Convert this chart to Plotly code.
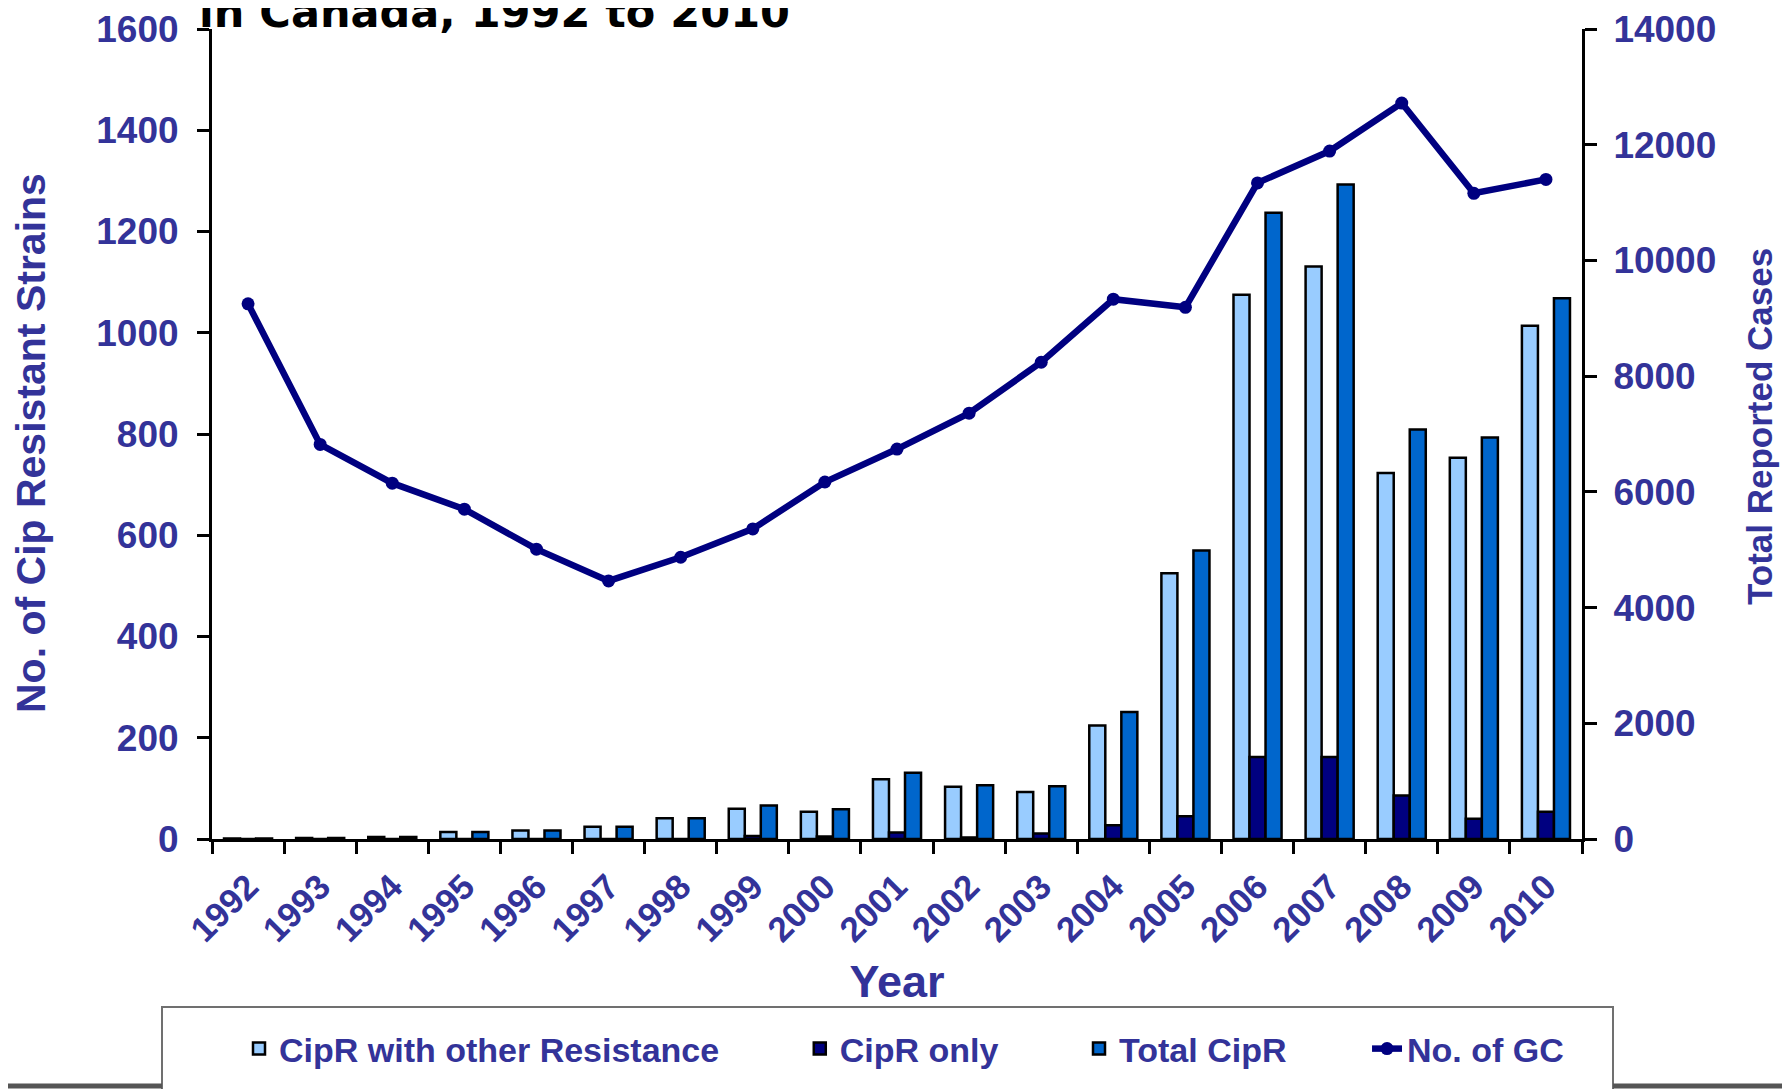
import plotly.graph_objects as go

years = [str(y) for y in range(1992, 2011)]
cipr_other = [1, 2, 4, 14, 17, 24, 41, 60, 54, 118, 103, 93, 224, 525, 1075, 1131, 723, 753, 1014]
cipr_only = [0, 0, 0, 0, 0, 0, 0, 6, 5, 13, 3, 11, 27, 45, 162, 162, 86, 40, 54]
total_cipr = [1, 2, 4, 14, 17, 24, 41, 66, 59, 131, 106, 104, 251, 570, 1237, 1293, 809, 793, 1068]
no_gc = [9250, 6820, 6150, 5700, 5010, 4460, 4870, 5360, 6170, 6740, 7360, 8240, 9330, 9190,
         11340, 11890, 12720, 11160, 11400]

left_ticks = [0, 200, 400, 600, 800, 1000, 1200, 1400, 1600]
right_ticks = [0, 2000, 4000, 6000, 8000, 10000, 12000, 14000]

FONT = "Liberation Sans, Arial, sans-serif"
TXT = "#333399"
PAD = "\u00a0" * 8  # spacing between legend entries

def bfont(size, color=TXT, family=FONT):
    return dict(family=family, size=size, color=color, weight="bold")

fig = go.Figure()
fig.add_trace(go.Bar(x=years, y=cipr_other, name="CipR with other Resistance" + PAD,
                     marker=dict(color="#99CCFF", line=dict(color="black", width=2.5))))
fig.add_trace(go.Bar(x=years, y=cipr_only, name="CipR only" + PAD,
                     marker=dict(color="#000080", line=dict(color="black", width=2.5))))
fig.add_trace(go.Bar(x=years, y=total_cipr, name="Total CipR" + PAD,
                     marker=dict(color="#0066CC", line=dict(color="black", width=2.5))))
fig.add_trace(go.Scatter(x=years, y=no_gc, name="No. of GC", yaxis="y2", mode="lines+markers",
                         line=dict(color="#000080", width=6.5),
                         marker=dict(color="#000080", size=13)))

# page has an 8px body margin; figure sized so it ends at the window edge
OFF = 8
W, H = 1790 - OFF, 1089 - OFF
L, T = 212 - OFF, 29 - OFF
R, B = W - (1582 - OFF), H - (839 - OFF)
pw, ph = W - L - R, H - T - B

def px_x(x):
    return (x - OFF - L) / pw

def px_y(y):
    return (H - B - (y - OFF)) / ph

fig.update_layout(
    width=W, height=H,
    margin=dict(l=L, r=R, t=T, b=B, autoexpand=False),
    paper_bgcolor="white", plot_bgcolor="white",
    barmode="group", bargap=1/3, bargroupgap=0,
    font=dict(family=FONT, color=TXT),
    xaxis=dict(type="category", categoryarray=years, tickson="boundaries",
               ticks="outside", ticklen=12, tickwidth=3, tickcolor="black",
               showline=True, linecolor="black", linewidth=3,
               tickangle=-45, tickfont=bfont(35),
               ticklabelstandoff=10,
               title=dict(text="Year", font=bfont(45), standoff=18),
               showgrid=False, zeroline=False, automargin=False, range=[-0.5, 18.5]),
    yaxis=dict(range=[0, 1600], tickvals=left_ticks, tickformat="d",
               ticks="outside", ticklen=12, tickwidth=3, tickcolor="black",
               showline=True, linecolor="black", linewidth=3,
               tickfont=bfont(37), ticklabelstandoff=11,
               showgrid=False, zeroline=False, automargin=False),
    yaxis2=dict(range=[0, 14000], tickvals=right_ticks, tickformat="d",
                overlaying="y", side="right",
                ticks="outside", ticklen=12, tickwidth=3, tickcolor="black",
                showline=True, linecolor="black", linewidth=3,
                tickfont=bfont(37), ticklabelstandoff=9,
                showgrid=False, zeroline=False, automargin=False),
    # inner halves of the crossing tick marks
    xaxis3=dict(overlaying="x", range=[-0.5, 18.5], tickvals=[i - 0.5 for i in range(20)],
                ticks="inside", ticklen=12, tickwidth=3, tickcolor="black",
                showticklabels=False, showline=False, showgrid=False, zeroline=False,
                anchor="y"),
    yaxis3=dict(overlaying="y", range=[0, 1600], tickvals=left_ticks, side="left",
                ticks="inside", ticklen=12, tickwidth=3, tickcolor="black",
                showticklabels=False, showline=False, showgrid=False, zeroline=False),
    yaxis4=dict(overlaying="y", range=[0, 14000], tickvals=right_ticks, side="right",
                ticks="inside", ticklen=12, tickwidth=3, tickcolor="black",
                showticklabels=False, showline=False, showgrid=False, zeroline=False),
    legend=dict(orientation="h", x=px_x(904), y=px_y(1049), xanchor="center", yanchor="middle",
                font=bfont(34), bgcolor="rgba(0,0,0,0)",
                borderwidth=0, traceorder="normal"),
    showlegend=True,
)

# axis titles
fig.add_annotation(text="No. of Cip Resistant Strains", xref="paper", yref="paper",
                   x=px_x(31), y=px_y(443), xanchor="center", yanchor="middle",
                   textangle=-90, showarrow=False, font=bfont(41))
fig.add_annotation(text="Total Reported Cases", xref="paper", yref="paper",
                   x=px_x(1759), y=px_y(427), xanchor="center", yanchor="middle",
                   textangle=-90, showarrow=False, font=bfont(35))

# legend frame and bottom page line
fig.add_shape(type="rect", xref="paper", yref="paper",
              x0=px_x(162), x1=px_x(1613), y0=px_y(1120), y1=px_y(1007),
              line=dict(color="#707070", width=2), fillcolor="rgba(0,0,0,0)", layer="below")
fig.add_shape(type="line", xref="paper", yref="paper",
              x0=px_x(0), x1=px_x(162), y0=px_y(1086), y1=px_y(1086),
              line=dict(color="#555555", width=5))
fig.add_shape(type="line", xref="paper", yref="paper",
              x0=px_x(1613), x1=px_x(1800), y0=px_y(1086), y1=px_y(1086),
              line=dict(color="#555555", width=5))

fig.add_annotation(text="in Canada, 1992 to 2010", xref="paper", yref="paper",
                   x=px_x(197), y=px_y(39), xanchor="left", yanchor="bottom",
                   showarrow=False,
                   font=bfont(43, "black", "DejaVu Sans, Liberation Sans, Arial, sans-serif"))

fig.write_html("out.html")
